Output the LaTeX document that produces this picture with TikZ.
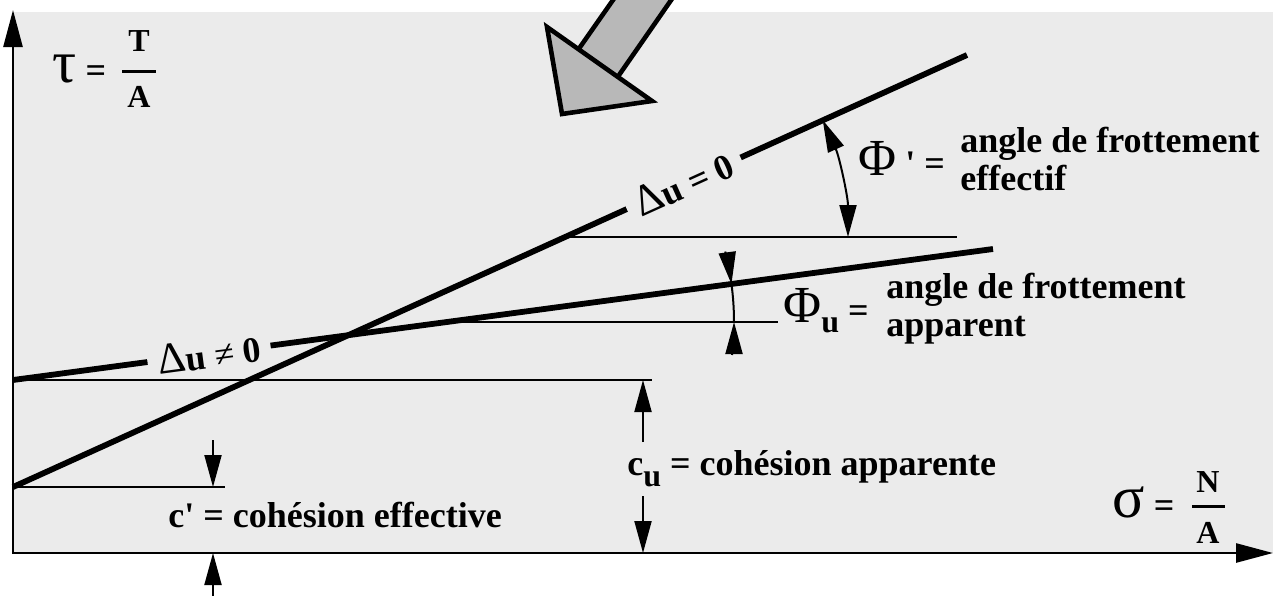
\documentclass[tikz,border=0pt]{standalone}
\usepackage{fontspec}
\setmainfont{Liberation Serif}[Ligatures=TeXOff]
\usetikzlibrary{arrows.meta}
\definecolor{bg}{RGB}{235,235,235}
\definecolor{arrowgray}{RGB}{184,184,184}
\newcommand{\bigDelta}{{\fontsize{22}{22}\selectfont\mdseries Δ}}
\begin{document}
\begin{tikzpicture}[x=0.5pt,y=-0.5pt,
  lbl/.style={font=\fontsize{18}{19}\selectfont\bfseries, inner sep=0pt},
  fracl/.style={font=\fontsize{16}{16}\selectfont\bfseries, inner sep=0pt},
  heavy/.style={line width=2.9pt},
  thinref/.style={line width=1pt},
  dimarrow/.style={line width=1pt,-{Triangle[length=16pt,width=8.5pt]}},
  dimboth/.style={line width=1pt,{Triangle[length=16pt,width=8.5pt]}-{Triangle[length=16pt,width=8.5pt]}},
  gaplabel/.style={lbl, sloped, fill=bg, inner xsep=5pt, inner ysep=0pt},
  bigarrow/.style={fill=arrowgray, draw=black, line width=2.3pt},
]
\useasboundingbox (0,0) rectangle (1279,595);
\clip (0,0) rectangle (1279,595);
\fill[bg] (13,12) rectangle (1273,553);

% key points
\coordinate (O) at (13,553);
\coordinate (Ytip) at (13,10);
\coordinate (Xtip) at (1273,553);
\coordinate (cuL) at (13,380);
\coordinate (cuR) at (652,380);
\coordinate (cpL) at (13,487);
\coordinate (cpR) at (225,487);
\coordinate (phuL) at (447,322);
\coordinate (phuR) at (778,322);
\coordinate (phpL) at (565,237);
\coordinate (phpR) at (957,237);
\coordinate (d0a) at (13,487);
\coordinate (d0b) at (967,55);
\coordinate (dna) at (13,380);
\coordinate (dnb) at (993,249);

% reference horizontals
\draw[thinref] (cuL) -- (cuR);
\draw[thinref] (cpL) -- (cpR);
\draw[thinref] (phuL) -- (phuR);
\draw[thinref] (phpL) -- (phpR);

% envelope lines
\draw[heavy] (d0a) -- node[gaplabel, pos=0.703] (lab0) {\bigDelta u = 0} (d0b);
\draw[heavy] (dna) -- node[gaplabel, pos=0.2] (labn) {\bigDelta u {\mdseries ≠} 0} (dnb);

% angle Phi'
\coordinate (phpArc) at (848,237);
\draw[dimboth] (phpArc) arc[start angle=0, end angle=-24.4, radius=283];

% angle Phi_u
\coordinate (phuArc) at (734,322);
\coordinate (phuTopStart) at (725.2,251.6);
\coordinate (phuBotStart) at (732.1,355);
\draw[thinref] (phuArc) arc[start angle=0, end angle=-7.6, radius=287];
\draw[dimarrow] (phuTopStart) arc[start angle=-14.2, end angle=-7.6, radius=287];
\draw[dimarrow] (phuBotStart) arc[start angle=6.6, end angle=0, radius=287];

% c' dimension
\coordinate (cpA) at (213,440);
\coordinate (cpAt) at (213,487);
\coordinate (cpB) at (213,600);
\coordinate (cpBt) at (213,553);
\draw[dimarrow] (cpA) -- (cpAt);
\draw[dimarrow] (cpB) -- (cpBt);

% c_u dimension
\coordinate (cuA) at (643,442);
\coordinate (cuAt) at (643,380);
\coordinate (cuB) at (643,496);
\coordinate (cuBt) at (643,553);
\draw[dimarrow] (cuA) -- (cuAt);
\draw[dimarrow] (cuB) -- (cuBt);

% axes
\draw[line width=1.3pt, {Triangle[length=18.5pt,width=9.5pt]}-{Triangle[length=18.5pt,width=9.5pt]}] (Ytip) -- (O) -- (Xtip);

% big arrow
\filldraw[bigarrow] (634,-30) -- (692,-30) -- (617,78) -- (578,50) -- cycle;
\filldraw[bigarrow] (547,27) -- (562,114) -- (652,101) -- cycle;

% tau = T/A
\node[lbl, anchor=base west] (taulbl) at (52,82) {{\fontsize{30}{30}\selectfont\mdseries τ} =};
\node[fracl, anchor=base] (tauT) at (139,51) {T};
\node[fracl, anchor=base] (tauA) at (139,107) {A};
\draw[line width=1.5pt] (122,71) -- (156,71);

% sigma = N/A
\node[lbl, anchor=base west] (siglbl) at (1112,517) {{\fontsize{30}{30}\selectfont\mdseries σ} =};
\node[fracl, anchor=base] (sigN) at (1208,492) {N};
\node[fracl, anchor=base] (sigA) at (1208,543) {A};
\draw[line width=1.5pt] (1192,506) -- (1225,506);

% Phi' label
\node[lbl, anchor=base west] (phip) at (858,175) {{\fontsize{26}{26}\selectfont\mdseries Φ} ' =};
\node[lbl, anchor=base west] (phip1) at (960,152) {angle de frottement};
\node[lbl, anchor=base west] (phip2) at (960,190) {effectif};

% Phi_u label
\node[lbl, anchor=base west] (phiu) at (783,322) {{\fontsize{26}{26}\selectfont\mdseries Φ}{\fontsize{16}{16}\selectfont\raisebox{-5pt}{u}} =};
\node[lbl, anchor=base west] (phiu1) at (886,298) {angle de frottement};
\node[lbl, anchor=base west] (phiu2) at (886,336) {apparent};

% cohesion labels
\node[lbl, anchor=base west] (culbl) at (627,475) {c{\fontsize{16}{16}\selectfont\raisebox{-5.5pt}{u}} = cohésion apparente};
\node[lbl, anchor=base west] (cplbl) at (168,527) {c' = cohésion effective};
\end{tikzpicture}
\end{document}
